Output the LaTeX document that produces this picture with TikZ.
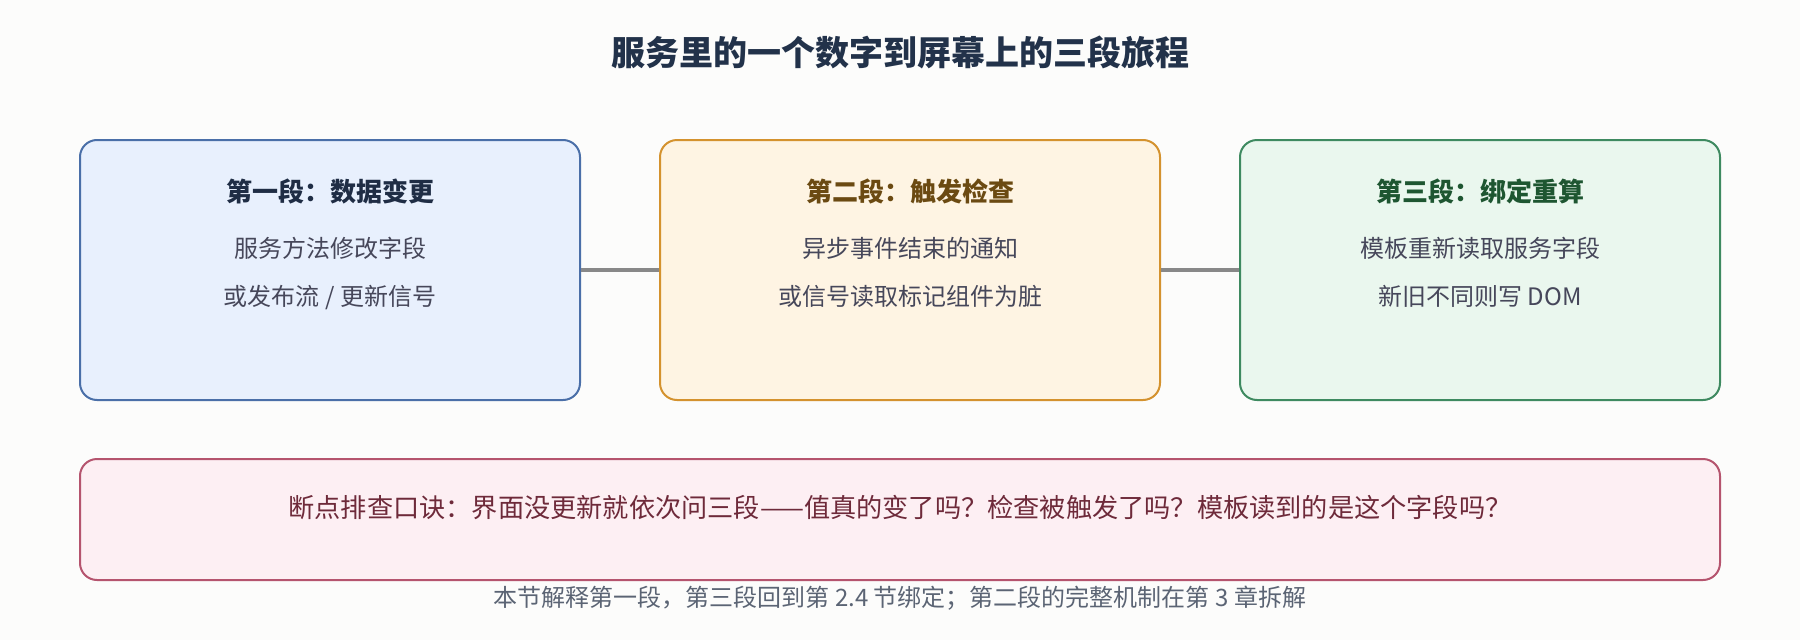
\documentclass[tikz,border=0pt]{standalone}
\usepackage{fontspec}
\setmainfont{Noto Sans CJK SC}
\usetikzlibrary{positioning}
\definecolor{bg}{HTML}{FCFCFB}
\definecolor{titlec}{HTML}{22324A}
\definecolor{bodyc}{HTML}{46475A}
\definecolor{afill}{HTML}{E8F0FD}
\definecolor{aline}{HTML}{4A6FA8}
\definecolor{ahead}{HTML}{1F2D45}
\definecolor{bfill}{HTML}{FEF4E3}
\definecolor{bline}{HTML}{D4922E}
\definecolor{bhead}{HTML}{6B4A12}
\definecolor{cfill}{HTML}{EAF7EE}
\definecolor{cline}{HTML}{3E8A60}
\definecolor{chead}{HTML}{1E5631}
\definecolor{dfill}{HTML}{FDEFF3}
\definecolor{dline}{HTML}{B5546E}
\definecolor{dtext}{HTML}{6E2A3A}
\definecolor{footc}{HTML}{5B6474}
\definecolor{connc}{HTML}{888888}
\tikzset{
  stagebox/.style={draw, line width=2pt, rounded corners=17pt, inner sep=0pt},
  txt/.style={inner sep=0pt, anchor=base},
  titletxt/.style={txt, text=titlec, font=\fontsize{34pt}{38pt}\selectfont\bfseries},
  headtxt/.style={txt, font=\fontsize{26pt}{30pt}\selectfont\bfseries},
  bodytxt/.style={txt, text=bodyc, font=\fontsize{24pt}{28pt}\selectfont},
  conn/.style={draw=connc, line width=4pt},
}
\begin{document}
\begin{tikzpicture}[x=1pt,y=-1pt]
\fill[bg] (0,0) rectangle (1800,640);
\useasboundingbox (0,0) rectangle (1800,640);

\node[titletxt] (title) at (900,65) {服务里的一个数字到屏幕上的三段旅程};

\node[stagebox, draw=aline, fill=afill, minimum width=500pt, minimum height=260pt] (b1) at (330,270) {};
\node[stagebox, draw=bline, fill=bfill, minimum width=500pt, minimum height=260pt] (b2) at (910,270) {};
\node[stagebox, draw=cline, fill=cfill, minimum width=480pt, minimum height=260pt] (b3) at (1480,270) {};

\draw[conn] (b1.east) -- (b2.west);
\draw[conn] (b2.east) -- (b3.west);

\node[headtxt, text=ahead] (h1) at (330,201) {第一段：数据变更};
\node[bodytxt] (l1a) at (330,257) {服务方法修改字段};
\node[bodytxt] (l1b) at (330,305) {或发布流 / 更新信号};

\node[headtxt, text=bhead] (h2) at (910,201) {第二段：触发检查};
\node[bodytxt] (l2a) at (910,257) {异步事件结束的通知};
\node[bodytxt] (l2b) at (910,305) {或信号读取标记组件为脏};

\node[headtxt, text=chead] (h3) at (1480,201) {第三段：绑定重算};
\node[bodytxt] (l3a) at (1480,257) {模板重新读取服务字段};
\node[bodytxt] (l3b) at (1480,305) {新旧不同则写 DOM};

\node[stagebox, draw=dline, fill=dfill, minimum width=1640pt, minimum height=121pt] (tip) at (900,519.5) {};
\node[txt, text=dtext, font=\fontsize{26.2pt}{30pt}\selectfont] (tiptxt) at (900,517.5) {断点排查口诀：界面没更新就依次问三段——值真的变了吗？检查被触发了吗？模板读到的是这个字段吗？};

\node[txt, text=footc, font=\fontsize{24pt}{28pt}\selectfont] (foot) at (900,606.5) {本节解释第一段，第三段回到第 2.4 节绑定；第二段的完整机制在第 3 章拆解};
\end{tikzpicture}
\end{document}
